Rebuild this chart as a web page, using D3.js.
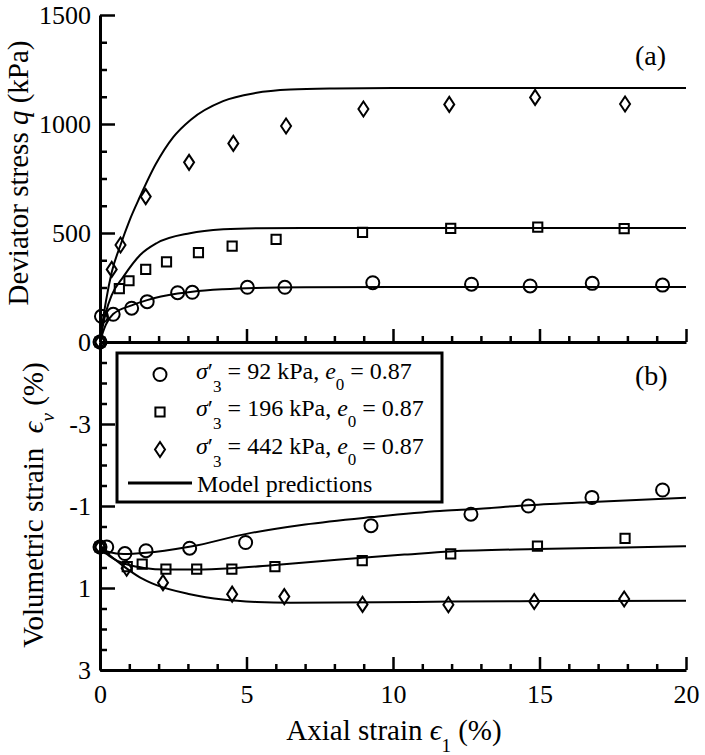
<!DOCTYPE html>
<html><head><meta charset="utf-8">
<script src="https://cdn.jsdelivr.net/npm/d3@7"></script>
<style>
body{margin:0;background:#fff}
svg{display:block}
text{font-family:"Liberation Serif","Times New Roman",Times,serif;fill:#000}
</style>
</head><body>
<svg id="chart" width="705" height="755"></svg>
<script>
// ---------- tick values ----------
const xMajorTicks = [0, 5, 10, 15, 20];
const qMajorTicks = [0, 500, 1000, 1500];
const vMajorTicks = [-3, -1, 1, 3];

// ---------- legend labels ----------
const seriesPressures = ["92", "196", "442"];
const voidRatio = "0.87";

// ---------- (a) measured deviator stress ----------
const qStrain92  = [0, 0.05, 0.45, 1.08, 1.61, 2.65, 3.15, 5.03, 6.31, 9.31, 12.68, 14.68, 16.8, 19.2];
const qValue92   = [0, 118, 127, 155, 185, 226, 228, 251, 251, 272, 265, 257, 269, 261];
const qStrain196 = [0, 0.66, 0.99, 1.56, 2.27, 3.36, 4.51, 6.01, 8.96, 11.97, 14.94, 17.89];
const qValue196  = [0, 245, 281, 333, 368, 410, 440, 471, 503, 521, 527, 520];
const qStrain442 = [0, 0.4, 0.7, 1.56, 3.04, 4.55, 6.35, 8.99, 11.92, 14.85, 17.92];
const qValue442  = [0, 333, 445, 667, 824, 911, 991, 1069, 1090, 1122, 1092];

// ---------- (a) model predictions ----------
const qModelStrain92  = [0, 0.1, 0.2, 0.45, 1.08, 1.61, 2.65, 3.15, 4.2, 5.3, 7, 10, 20];
const qModel92        = [0, 45, 80, 128, 168, 192, 222, 231, 242, 248, 251, 252, 252];
const qModelStrain196 = [0, 0.1, 0.2, 0.4, 0.8, 1.37, 1.93, 3.07, 4.21, 5.35, 7, 10, 20];
const qModel196       = [0, 75, 135, 215, 300, 399, 453, 499, 517, 522, 523, 523, 523];
const qModelStrain442 = [0, 0.1, 0.2, 0.4, 0.7, 1.0, 1.36, 1.9, 2.5, 3.1, 4.2, 5.3, 6.5, 8, 10, 14, 20];
const qModel442       = [0, 100, 185, 320, 445, 555, 665, 815, 940, 1020, 1105, 1142, 1158, 1163, 1165, 1165, 1165];

// ---------- (b) measured volumetric strain ----------
const vStrain92  = [0, 0.23, 0.85, 1.57, 3.06, 4.97, 9.25, 12.66, 14.62, 16.79, 19.2];
const vValue92   = [0, 0, 0.16, 0.09, 0.03, -0.11, -0.52, -0.80, -1.0, -1.21, -1.39];
const vStrain196 = [0, 0.93, 1.44, 2.25, 3.30, 4.5, 5.97, 8.95, 11.97, 14.93, 17.92];
const vValue196  = [0, 0.48, 0.42, 0.54, 0.54, 0.54, 0.48, 0.33, 0.17, -0.02, -0.21];
const vStrain442 = [0, 0.91, 2.15, 4.51, 6.29, 8.96, 11.89, 14.82, 17.89];
const vValue442  = [0, 0.52, 0.87, 1.15, 1.21, 1.40, 1.41, 1.33, 1.27];

// ---------- (b) model predictions ----------
const vModelStrain92  = [0, 0.3, 0.8, 1.57, 2.2, 3.1, 5, 7, 9.27, 11.6, 12.66, 14.62, 16.79, 20];
const vModel92        = [0, 0.12, 0.17, 0.14, 0.09, -0.01, -0.32, -0.55, -0.73, -0.88, -0.92, -1.02, -1.1, -1.2];
const vModelStrain196 = [0, 0.2, 0.5, 1.0, 1.5, 2.25, 3.3, 4.5, 5.97, 7.5, 8.95, 10.5, 11.97, 14.93, 17.9, 20];
const vModel196       = [0, 0.15, 0.3, 0.44, 0.51, 0.55, 0.55, 0.52, 0.44, 0.35, 0.26, 0.18, 0.11, 0.05, 0.01, -0.02];
const vModelStrain442 = [0, 0.2, 0.5, 0.79, 1.36, 1.93, 3.07, 4.2, 5.34, 6.5, 9.5, 12, 15, 20];
const vModel442       = [0, 0.12, 0.3, 0.46, 0.74, 0.93, 1.15, 1.28, 1.34, 1.36, 1.35, 1.33, 1.32, 1.31];

// ---------- layout ----------
const svg = d3.select("#chart");
const FONT_TICK = 26, FONT_TITLE = 29, FONT_LEG = 24;

const x  = d3.scaleLinear().domain([0, 20]).range([100, 686]);
const yq = d3.scaleLinear().domain([0, 1500]).range([342, 15]);
const yv = d3.scaleLinear().domain([-5, 3]).range([342, 670]);

const zip = (a, b) => a.map((d, i) => [d, b[i]]);

function styleAxis(g, tickW) {
  g.selectAll(".tick line").attr("stroke", "#000").attr("stroke-width", tickW);
  g.selectAll(".tick text").attr("font-size", FONT_TICK).attr("font-family", "Liberation Serif, Times New Roman, serif").attr("fill", "#000");
  g.select(".domain").attr("stroke", "#000").attr("stroke-width", 3);
}
function noDomain(g) { g.select(".domain").remove(); }

const xMinor = d3.range(0, 21, 1).filter(d => !xMajorTicks.includes(d));
const qMinor = d3.range(0, 1501, 125).filter(d => !qMajorTicks.includes(d));
const vMinor = d3.range(-4.5, 3, 0.5).filter(d => !vMajorTicks.includes(d));

// top x axis (shared boundary)
svg.append("g").attr("transform", "translate(0,342)")
  .call(d3.axisBottom(x).tickValues(xMinor).tickSize(-6).tickSizeOuter(0).tickFormat(""))
  .call(g => styleAxis(g, 2.5)).call(noDomain);
svg.append("g").attr("transform", "translate(0,342)")
  .call(d3.axisBottom(x).tickValues(xMajorTicks).tickSize(-13).tickSizeOuter(0).tickFormat(""))
  .call(g => styleAxis(g, 2.5));

// bottom x axis
svg.append("g").attr("transform", "translate(0,670)")
  .call(d3.axisBottom(x).tickValues(xMinor).tickSize(-6).tickSizeOuter(0).tickFormat(""))
  .call(g => styleAxis(g, 2.5)).call(noDomain);
svg.append("g").attr("transform", "translate(0,670)")
  .call(d3.axisBottom(x).tickValues(xMajorTicks).tickSize(-13).tickSizeOuter(0).tickPadding(15).tickFormat(d3.format("d")))
  .call(g => styleAxis(g, 2.5));

// top y axis
svg.append("g").attr("transform", "translate(100,0)")
  .call(d3.axisLeft(yq).tickValues(qMinor).tickSize(-7).tickSizeOuter(0).tickFormat(""))
  .call(g => styleAxis(g, 2.5)).call(noDomain);
svg.append("g").attr("transform", "translate(100,0)")
  .call(d3.axisLeft(yq).tickValues(qMajorTicks).tickSize(-15).tickSizeOuter(0).tickPadding(9).tickFormat(d3.format("d")))
  .call(g => styleAxis(g, 2.5));

// bottom y axis
svg.append("g").attr("transform", "translate(100,0)")
  .call(d3.axisLeft(yv).tickValues(vMinor).tickSize(-7).tickSizeOuter(0).tickFormat(""))
  .call(g => styleAxis(g, 2.5)).call(noDomain);
svg.append("g").attr("transform", "translate(100,0)")
  .call(d3.axisLeft(yv).tickValues(vMajorTicks).tickSize(-15).tickSizeOuter(0).tickPadding(9).tickFormat(d => String(d)))
  .call(g => styleAxis(g, 2.5));

// ---------- model lines ----------
const lineQ = d3.line().x(d => x(d[0])).y(d => yq(d[1])).curve(d3.curveMonotoneX);
const lineV = d3.line().x(d => x(d[0])).y(d => yv(d[1])).curve(d3.curveMonotoneX);
const curves = svg.append("g").attr("fill", "none").attr("stroke", "#000").attr("stroke-width", 2);
[[qModelStrain92, qModel92], [qModelStrain196, qModel196], [qModelStrain442, qModel442]]
  .forEach(([a, b]) => curves.append("path").attr("d", lineQ(zip(a, b))));
[[vModelStrain92, vModel92], [vModelStrain196, vModel196], [vModelStrain442, vModel442]]
  .forEach(([a, b]) => curves.append("path").attr("d", lineV(zip(a, b))));

// ---------- markers ----------
const symCircle  = "M6.5,0A6.5,6.5 0 1,1 -6.5,0A6.5,6.5 0 1,1 6.5,0Z";
const symSquare  = "M-4.6,-4.6H4.6V4.6H-4.6Z";
const symDiamond = "M0,-7.5L5,0L0,7.5L-5,0Z";
const marks = svg.append("g").attr("fill", "none").attr("stroke", "#000").attr("stroke-width", 2);
function drawPts(xs, ys, yScale, sym) {
  marks.selectAll(null).data(zip(xs, ys)).join("path")
    .attr("d", sym)
    .attr("transform", d => `translate(${x(d[0])},${yScale(d[1])})`);
}
drawPts(qStrain92, qValue92, yq, symCircle);
drawPts(qStrain196, qValue196, yq, symSquare);
drawPts(qStrain442, qValue442, yq, symDiamond);
drawPts(vStrain92, vValue92, yv, symCircle);
drawPts(vStrain196, vValue196, yv, symSquare);
drawPts(vStrain442, vValue442, yv, symDiamond);

// ---------- titles ----------
const t1 = svg.append("text").attr("transform", "translate(28,173) rotate(-90)")
  .attr("text-anchor", "middle").attr("font-size", FONT_TITLE);
t1.append("tspan").text("Deviator stress ");
t1.append("tspan").attr("font-style", "italic").text("q");
t1.append("tspan").text(" (kPa)");

const t2 = svg.append("text").attr("transform", "translate(43,505) rotate(-90)")
  .attr("text-anchor", "middle").attr("font-size", FONT_TITLE);
t2.append("tspan").text("Volumetric strain\u00A0\u00A0");
t2.append("tspan").attr("font-style", "italic").text("\u03F5");
t2.append("tspan").attr("font-style", "italic").attr("font-size", 19).attr("dy", 11).text("v");
t2.append("tspan").attr("dy", -11).text(" (%)");

const t3 = svg.append("text").attr("x", 394).attr("y", 740)
  .attr("text-anchor", "middle").attr("font-size", FONT_TITLE);
t3.append("tspan").text("Axial strain ");
t3.append("tspan").attr("font-style", "italic").text("\u03F5");
t3.append("tspan").attr("font-size", 19).attr("dy", 12).text("1");
t3.append("tspan").attr("dy", -12).text(" (%)");

svg.append("text").attr("x", 635).attr("y", 65).attr("font-size", 28).text("(a)");
svg.append("text").attr("x", 635).attr("y", 385).attr("font-size", 28).text("(b)");

// ---------- legend ----------
const leg = svg.append("g");
leg.append("rect").attr("x", 117).attr("y", 353).attr("width", 325).attr("height", 149)
  .attr("fill", "none").attr("stroke", "#000").attr("stroke-width", 3);
const legSyms = [symCircle, symSquare, "M0,-7.5L5,0L0,7.5L-5,0Z"];
const legRowY = [378.5, 416, 453.5];
seriesPressures.forEach((p, i) => {
  leg.append("path").attr("d", legSyms[i]).attr("fill", "none").attr("stroke", "#000").attr("stroke-width", 2)
    .attr("transform", `translate(160,${legRowY[i] - 4})`);
  const t = leg.append("text").attr("x", 196).attr("y", legRowY[i]).attr("font-size", FONT_LEG);
  t.append("tspan").attr("font-style", "italic").text("\u03C3");
  t.append("tspan").text("\u2032");
  t.append("tspan").attr("font-size", 17).attr("dy", 13).text("3");
  t.append("tspan").attr("dy", -13).text(` = ${p} kPa, `);
  t.append("tspan").attr("font-style", "italic").text("e");
  t.append("tspan").attr("font-size", 17).attr("dy", 11).text("0");
  t.append("tspan").attr("dy", -11).text(` = ${voidRatio}`);
});
leg.append("line").attr("x1", 128).attr("x2", 192).attr("y1", 483).attr("y2", 483)
  .attr("stroke", "#000").attr("stroke-width", 3);
leg.append("text").attr("x", 197).attr("y", 492).attr("font-size", FONT_LEG).text("Model predictions");
</script>
</body></html>
